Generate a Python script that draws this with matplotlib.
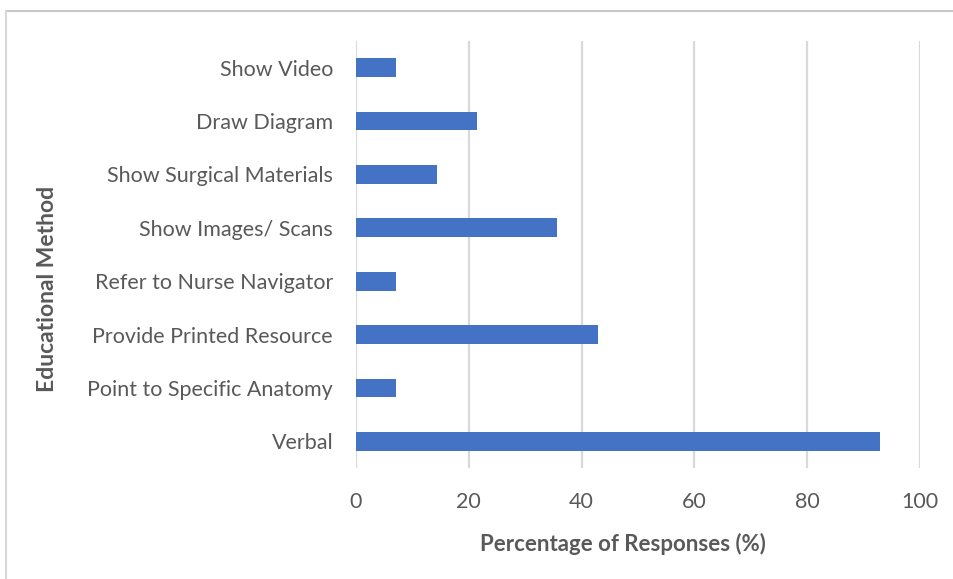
import matplotlib
matplotlib.use('Agg')
import matplotlib.pyplot as plt
from matplotlib.lines import Line2D

# 各教育方式的回应比例（%），自上而下排列
methods = ['Show Video', 'Draw Diagram', 'Show Surgical Materials', 'Show Images/ Scans',
           'Refer to Nurse Navigator', 'Provide Printed Resource',
           'Point to Specific Anatomy', 'Verbal']
percent = [7.1, 21.4, 14.3, 35.7, 7.1, 42.9, 7.1, 92.9]
x_ticks = [0, 20, 40, 60, 80, 100]

plt.rcParams['font.family'] = ['Lato', 'DejaVu Sans']
TEXT = '#595959'

fig = plt.figure(figsize=(9.54, 5.79), dpi=100)
ax = fig.add_axes([356 / 954, 1 - 468 / 579, (920 - 356) / 954, (468 - 41) / 579])

ypos = list(range(len(methods)))[::-1]
ax.barh(ypos, percent, height=0.35, color='#4472C4', zorder=3)

ax.set_xlim(0, 100)
ax.set_ylim(-0.5, len(methods) - 0.5)
ax.set_xticks(x_ticks)
ax.set_yticks(ypos)
ax.set_yticklabels(methods)
ax.tick_params(axis='both', length=0, colors=TEXT, labelsize=15.5)
ax.tick_params(axis='y', pad=16.5)
ax.tick_params(axis='x', pad=17)
ax.grid(axis='x', color='#d9d9d9', linewidth=1.6, zorder=0)
for sp in ax.spines.values():
    sp.set_visible(False)

ax.set_xlabel('Percentage of Responses (%)', fontsize=16, fontweight='bold', color=TEXT)
ax.set_ylabel('Educational Method', fontsize=16.5, fontweight='bold', color=TEXT)
ax.xaxis.set_label_coords(0.473, -0.152)
ax.yaxis.set_label_coords(-0.528, 0.42)

# 图表外框（只露出上边和左边）
fig.add_artist(Line2D([6 / 954, 1], [1 - 11 / 579, 1 - 11 / 579],
                      color='#c8c8c8', linewidth=1.5, transform=fig.transFigure))
fig.add_artist(Line2D([6 / 954, 6 / 954], [0, 1 - 11 / 579],
                      color='#d8d8d8', linewidth=1.5, transform=fig.transFigure))

fig.savefig('out.png', dpi=100)
